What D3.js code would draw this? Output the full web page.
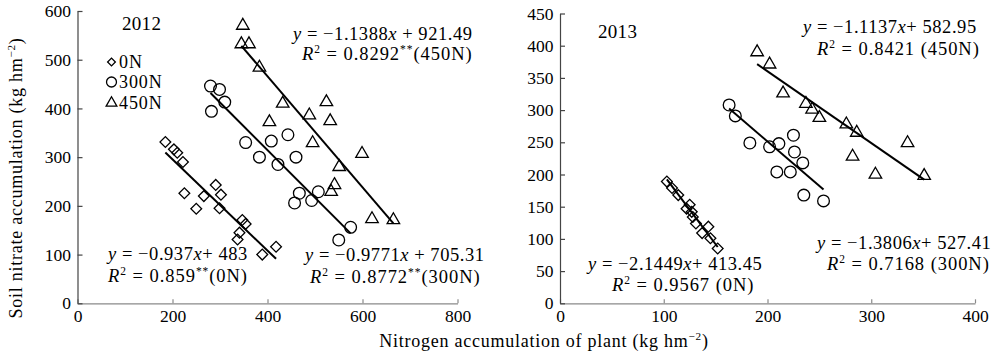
<!DOCTYPE html>
<html><head><meta charset="utf-8">
<script src="https://cdn.jsdelivr.net/npm/d3@7"></script>
<style>
body{margin:0;background:#fff}
svg{display:block}
</style>
</head><body>
<svg id="c" width="1000" height="355" font-family="'Liberation Serif', 'Times New Roman', Times, serif"></svg>
<script>
// ---------------- data ----------------
const xTicks2012 = [0, 200, 400, 600, 800];
const yTicks2012 = [0, 100, 200, 300, 400, 500, 600];
const xTicks2013 = [0, 100, 200, 300, 400];
const yTicks2013 = [0, 50, 100, 150, 200, 250, 300, 350, 400, 450];

const x2012_0N = [185, 203, 210, 222, 225, 266, 250, 291, 302, 299, 347, 354, 341, 337, 389, 418];
const y2012_0N = [331, 316, 309, 290, 226, 220, 194, 243, 223, 195, 171, 163, 145, 131, 100, 116];
const x2012_300N = [280, 299, 310, 282, 354, 408, 443, 383, 460, 422, 467, 457, 493, 507, 575, 550];
const y2012_300N = [446, 439, 413, 394, 330, 333, 346, 300, 300, 285, 226, 206, 211, 229, 156, 130];
const x2012_450N = [348, 345, 361, 383, 432, 404, 488, 524, 532, 495, 599, 551, 541, 534, 620, 665];
const y2012_450N = [570, 532, 532, 484, 410, 372, 386, 413, 374, 329, 307, 280, 243, 229, 173, 171];

const x2013_0N = [103, 108, 114, 125, 122, 127, 128, 131, 137, 143, 145, 152];
const y2013_0N = [189, 179, 168, 153, 147, 142, 134, 124, 109, 119, 101, 85];
const x2013_300N = [163, 169, 183, 202, 211, 225, 226, 234, 209, 222, 235, 254];
const y2013_300N = [308, 291, 249, 243, 248, 261, 235, 218, 204, 204, 168, 159];
const x2013_450N = [190, 202, 215, 237, 243, 250, 276, 286, 335, 282, 304, 351];
const y2013_450N = [390, 371, 326, 310, 301, 288, 278, 265, 249, 228, 200, 198];

// regression coefficients [slope, intercept]
const fit2012 = {"0N": [-0.937, 483], "300N": [-0.9771, 705.31], "450N": [-1.1388, 921.49]};
const fit2013 = {"0N": [-2.1449, 413.45], "300N": [-1.3806, 527.41], "450N": [-1.1137, 582.95]};

const seriesNames = ["0N", "300N", "450N"];
const yearLabels = ["2012", "2013"];
const xTitle = "Nitrogen accumulation of plant (kg hm^−2^)";
const yTitle = "Soil nitrate accumulation (kg hm^−2^)";

// equation texts: *italic*, ^superscript^
const eq2012 = [
  ["*y* = −1.1388*x* + 921.49", "*R*^2^ = 0.8292^**^(450N)"],
  ["*y* = −0.937*x*+ 483", "*R*^2^ =  0.859^**^(0N)"],
  ["*y* = −0.9771*x* + 705.31", "*R*^2^ = 0.8772^**^(300N)"]
];
const eq2013 = [
  ["*y* = −1.1137*x*+ 582.95", "*R*^2^ = 0.8421 (450N)"],
  ["*y* = −2.1449*x*+ 413.45", "*R*^2^ = 0.9567 (0N)"],
  ["*y* = −1.3806*x*+ 527.41", "*R*^2^ = 0.7168 (300N)"]
];

// ---------------- drawing ----------------
const FONT = "'Liberation Serif', 'Times New Roman', Times, serif";
const svg = d3.select("#c");

function richText(sel, str, fs) {
  const re = /(\*[^*]+\*|\^[^^]+\^)/g;
  const parts = str.split(re).filter(s => s.length);
  let prevSup = false;
  parts.forEach(p => {
    const ts = sel.append("tspan");
    if (p.startsWith("*") && p.endsWith("*") && p.length > 2 && !p.startsWith("**")) {
      ts.text(p.slice(1, -1)).attr("font-style", "italic");
      if (prevSup) ts.attr("dy", fs * 0.38);
      prevSup = false;
    } else if (p.startsWith("^") && p.endsWith("^")) {
      ts.text(p.slice(1, -1)).attr("font-size", fs * 0.62).attr("dy", -fs * 0.38);
      prevSup = true;
    } else {
      ts.text(p);
      if (prevSup) ts.attr("dy", fs * 0.38);
      prevSup = false;
    }
  });
}

const symbolGen = {
  "0N": d3.symbol().type(d3.symbolSquare).size(58),
  "300N": d3.symbol().type(d3.symbolCircle).size(108),
  "450N": d3.symbol().type(d3.symbolTriangle).size(68)
};
const symRot = {"0N": 45, "300N": 0, "450N": 0};

function panel(cfg) {
  const g = svg.append("g");
  const x = d3.scaleLinear().domain(cfg.xDomain).range(cfg.xRange);
  const y = d3.scaleLinear().domain(cfg.yDomain).range(cfg.yRange);

  const xa = g.append("g").attr("transform", `translate(0,${cfg.yRange[0]})`)
    .call(d3.axisBottom(x).tickValues(cfg.xTicks).tickSizeInner(-4).tickSizeOuter(0).tickPadding(6.5));
  xa.attr("font-family", FONT).attr("font-size", 17.5);
  xa.select(".domain").attr("stroke", "#8a8a8a").attr("stroke-width", 1.2);
  xa.selectAll(".tick line").attr("stroke", "#8a8a8a").attr("stroke-width", 1.2);
  xa.selectAll("text").attr("fill", "#000");

  const ya = g.append("g").attr("transform", `translate(${cfg.xRange[0]},0)`)
    .call(d3.axisLeft(y).tickValues(cfg.yTicks).tickSizeInner(-5).tickSizeOuter(0).tickPadding(6.5));
  ya.attr("font-family", FONT).attr("font-size", 17.5);
  ya.select(".domain").attr("stroke", "#444").attr("stroke-width", 1.2);
  ya.selectAll(".tick line").attr("stroke", "#444").attr("stroke-width", 1.2);
  ya.selectAll("text").attr("fill", "#000");

  seriesNames.forEach(s => {
    const xs = cfg.data[s][0];
    const [m, b] = cfg.fit[s];
    const ext = d3.extent(xs);
    g.append("line")
      .attr("x1", x(ext[0])).attr("y1", y(m * ext[0] + b))
      .attr("x2", x(ext[1])).attr("y2", y(m * ext[1] + b))
      .attr("stroke", "#000").attr("stroke-width", 2);
  });

  seriesNames.forEach(s => {
    const [xs, ys] = cfg.data[s];
    g.selectAll(null).data(xs.map((v, i) => [v, ys[i]])).join("path")
      .attr("d", symbolGen[s])
      .attr("transform", d => `translate(${x(d[0])},${y(d[1])}) rotate(${symRot[s]})`)
      .attr("fill", "none").attr("stroke", "#000").attr("stroke-width", 1.3);
  });

  g.append("text").attr("x", cfg.yearPos[0]).attr("y", cfg.yearPos[1])
    .attr("font-size", 19).attr("letter-spacing", 0.3).text(cfg.year);

  cfg.eqs.forEach((lines, i) => {
    lines.forEach((ln, j) => {
      const t = g.append("text").attr("x", cfg.eqPos[i][j][0]).attr("y", cfg.eqPos[i][j][1])
        .attr("font-size", 18.5).attr("letter-spacing", j === 0 ? 0.55 : 0.95);
      richText(t, ln, 18.5);
    });
  });
  return {x, y};
}

panel({
  xDomain: [0, 800], yDomain: [0, 600],
  xRange: [77.5, 457.5], yRange: [303.3, 11],
  xTicks: xTicks2012, yTicks: yTicks2012,
  data: {"0N": [x2012_0N, y2012_0N], "300N": [x2012_300N, y2012_300N], "450N": [x2012_450N, y2012_450N]},
  fit: fit2012,
  year: yearLabels[0], yearPos: [122, 30],
  eqs: eq2012,
  eqPos: [[[293, 40], [302, 60]], [[108, 260], [108, 282]], [[305, 261], [310, 283]]]
});

panel({
  xDomain: [0, 400], yDomain: [0, 450],
  xRange: [560, 975], yRange: [303.3, 13.5],
  xTicks: xTicks2013, yTicks: yTicks2013,
  data: {"0N": [x2013_0N, y2013_0N], "300N": [x2013_300N, y2013_300N], "450N": [x2013_450N, y2013_450N]},
  fit: fit2013,
  year: yearLabels[1], yearPos: [598, 38],
  eqs: eq2013,
  eqPos: [[[803, 33], [817, 55]], [[588, 270], [612, 291]], [[817, 249], [827, 270]]]
});

const legY = [62, 82, 103];
seriesNames.forEach((s, i) => {
  svg.append("path").attr("d", d3.symbol().type(s === "0N" ? d3.symbolSquare : s === "300N" ? d3.symbolCircle : d3.symbolTriangle)
      .size(s === "0N" ? 30 : s === "300N" ? 78 : 50))
    .attr("transform", `translate(111.5,${legY[i]}) rotate(${symRot[s]})`)
    .attr("fill", "none").attr("stroke", "#000").attr("stroke-width", 1.3);
  svg.append("text").attr("x", 119).attr("y", legY[i] + 5.5).attr("font-size", 18).attr("letter-spacing", 0.9).text(s);
});

const xt = svg.append("text").attr("x", 544).attr("y", 347).attr("text-anchor", "middle")
  .attr("font-size", 18).attr("letter-spacing", 0.75);
richText(xt, xTitle, 18);
const yt = svg.append("text").attr("transform", "translate(22,178) rotate(-90)").attr("text-anchor", "middle")
  .attr("font-size", 18).attr("letter-spacing", 0.75);
richText(yt, yTitle, 18);
</script>
</body></html>
